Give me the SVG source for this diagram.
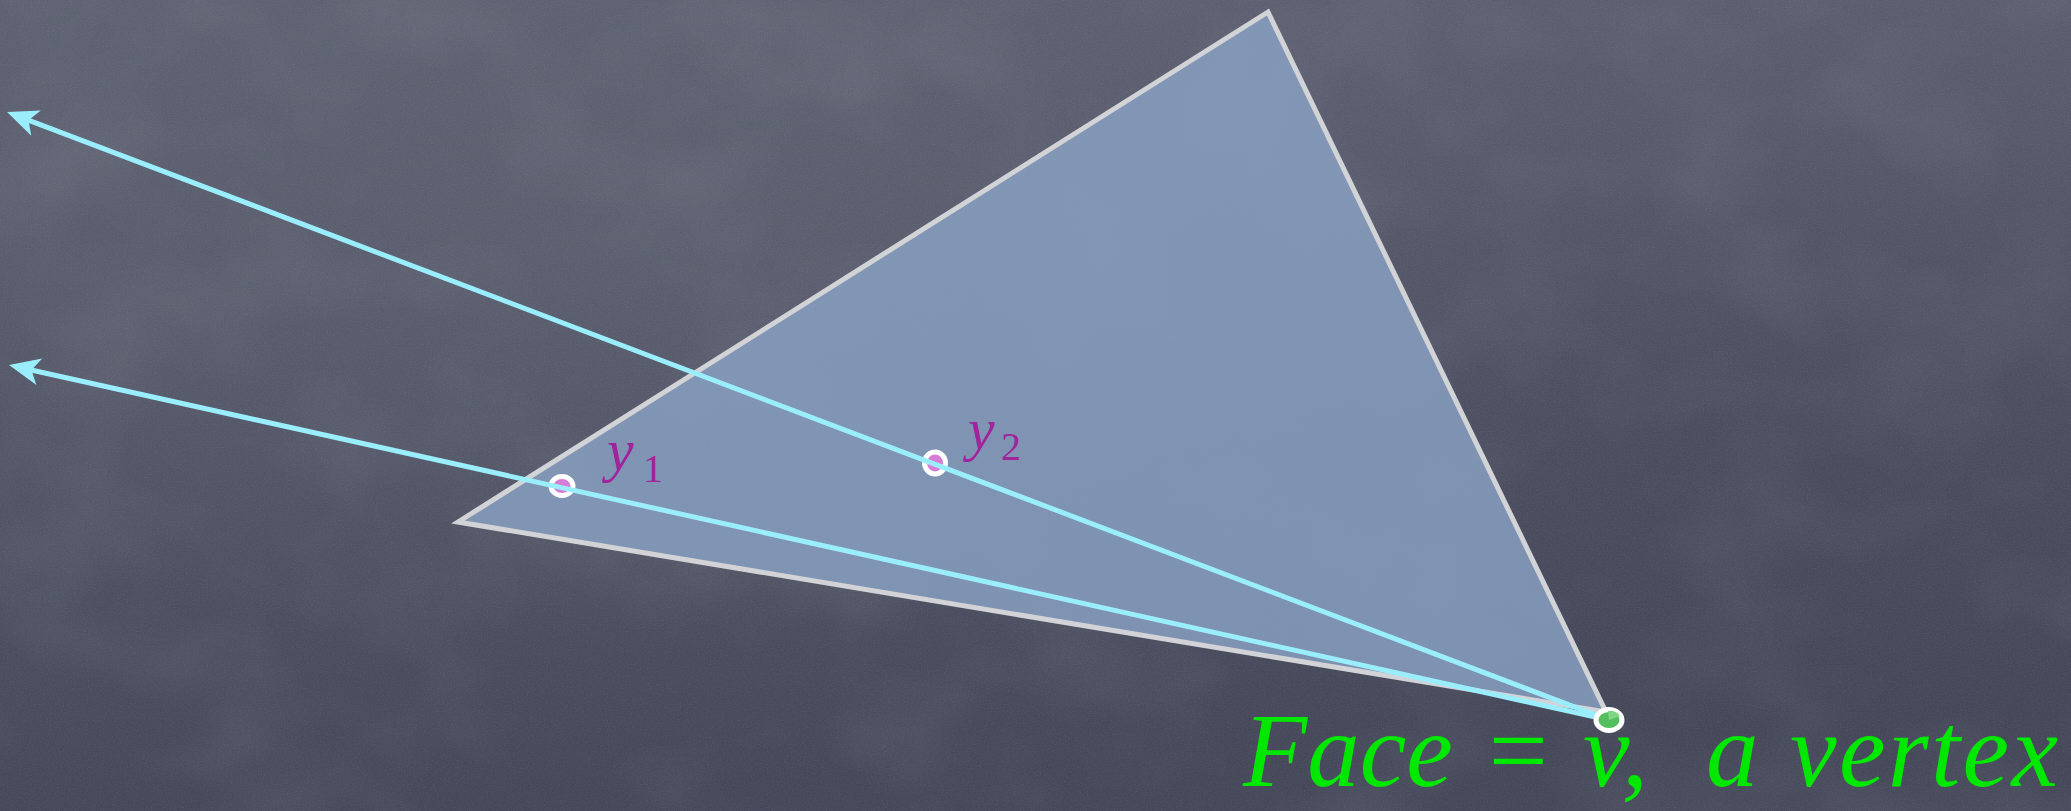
<svg xmlns="http://www.w3.org/2000/svg" width="2071" height="811" viewBox="0 0 2071 811">
  <defs>
    <linearGradient id="bg" x1="0" y1="0" x2="0.15" y2="1">
      <stop offset="0" stop-color="#5d6171"/>
      <stop offset="0.5" stop-color="#525667"/>
      <stop offset="1" stop-color="#46495a"/>
    </linearGradient>
    <radialGradient id="blot1" cx="0.3" cy="0.3" r="0.5">
      <stop offset="0" stop-color="#6a6e7c" stop-opacity="0.3"/>
      <stop offset="1" stop-color="#6a6e7c" stop-opacity="0"/>
    </radialGradient>
    <radialGradient id="blot2" cx="0.85" cy="0.6" r="0.45">
      <stop offset="0" stop-color="#3f4252" stop-opacity="0.3"/>
      <stop offset="1" stop-color="#3f4252" stop-opacity="0"/>
    </radialGradient>
    <filter id="grain" x="0" y="0" width="100%" height="100%">
      <feTurbulence type="fractalNoise" baseFrequency="0.7" numOctaves="2" seed="7"/>
      <feColorMatrix type="matrix" values="0 0 0 0 0.85  0 0 0 0 0.87  0 0 0 0 0.92  0 0 0 1.2 -0.5"/>
    </filter>
    <filter id="cloud" x="0" y="0" width="100%" height="100%">
      <feTurbulence type="fractalNoise" baseFrequency="0.006 0.008" numOctaves="3" seed="3"/>
      <feColorMatrix type="matrix" values="0 0 0 0 0.75  0 0 0 0 0.78  0 0 0 0 0.85  0 0 0 1.4 -0.6"/>
    </filter>
    <marker id="arrow" markerUnits="userSpaceOnUse" markerWidth="44" markerHeight="44" viewBox="-44 -22 44 44" refX="-10" refY="0" orient="auto">
      <path d="M0,0 L-31,-13.5 L-23,0 L-31,13.5 Z" fill="#9aeefc"/>
    </marker>
    <style>
      .ray { fill: none; stroke: #9aeefc; stroke-width: 5; stroke-linecap: round; }
      .face { fill: #8ba2c6; fill-opacity: 0.8; stroke: #d2d3d6; stroke-width: 5; stroke-linejoin: miter; }
      .pt { fill: #d67bd6; stroke: #ffffff; stroke-width: 5; }
      .lbl { font-family: "Liberation Serif", "DejaVu Serif", serif; font-style: italic; fill: #a0249c; }
      .big { font-family: "Liberation Serif", "DejaVu Serif", serif; font-style: italic; fill: #00e800; font-size: 105px; }
    </style>
  </defs>

  <g id="background">
    <rect width="2071" height="811" fill="url(#bg)"/>
    <rect width="2071" height="811" fill="url(#blot1)"/>
    <rect width="2071" height="811" fill="url(#blot2)"/>
    <rect width="2071" height="811" filter="url(#cloud)" opacity="0.1"/>
    <rect width="2071" height="811" filter="url(#grain)" opacity="0.1"/>
  </g>

  <g id="face-triangle">
    <polygon class="face" points="1268,12 458,522 1606,712"/>
  </g>

  <g id="node-y1">
    <ellipse class="pt" cx="562" cy="486" rx="11" ry="9.5"/>
    <text class="lbl" x="607" y="470" font-size="60">y<tspan x="643" y="482" font-size="40" font-style="normal">1</tspan></text>
  </g>

  <g id="node-y2">
    <ellipse class="pt" cx="935" cy="463" rx="10.5" ry="11"/>
    <text class="lbl" x="968" y="449" font-size="60">y<tspan x="1001" y="460" font-size="40" font-style="normal">2</tspan></text>
  </g>

  <g id="connectors">
    <path class="ray" d="M1609,720 L16.4,115.6" marker-end="url(#arrow)"/>
    <path class="ray" d="M1609,720 L18.8,367.2" marker-end="url(#arrow)"/>
  </g>

  <g id="node-v">
    <ellipse cx="1609" cy="720" rx="13" ry="10.5" fill="#55bf5e" stroke="#ffffff" stroke-width="5"/>
    <path d="M1609,720 L1620,716 A11,9 0 0 0 1608,711 Z" fill="#7fd684"/>
  </g>

  <g id="label">
    <text class="big" y="786"><tspan x="1243">Face </tspan><tspan x="1482">= </tspan><tspan x="1583">v, </tspan><tspan x="1706">a </tspan><tspan x="1790" textLength="268" lengthAdjust="spacing">vertex</tspan></text>
  </g>
</svg>
